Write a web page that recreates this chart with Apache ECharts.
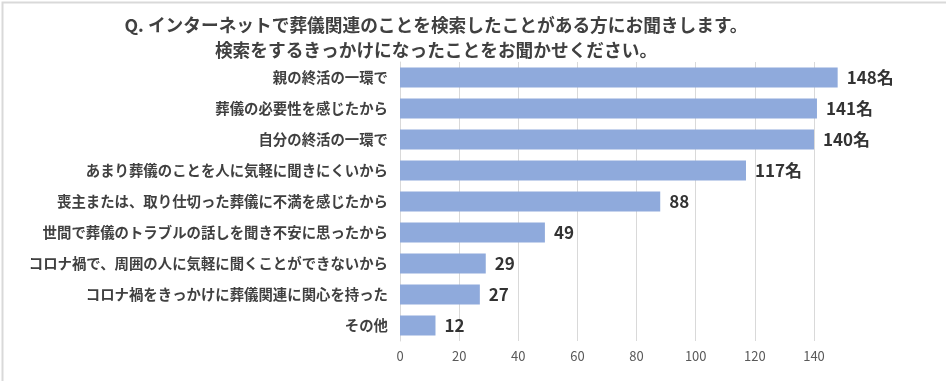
<!DOCTYPE html>
<html><head><meta charset="utf-8">
<script src="https://cdn.jsdelivr.net/npm/echarts@6/dist/echarts.min.js"></script>
<style>html,body{margin:0;padding:0;background:#fff}#c{width:946px;height:381px}</style>
</head><body><div id="c"></div>
<script>
const categories = [
  "親の終活の一環で",
  "葬儀の必要性を感じたから",
  "自分の終活の一環で",
  "あまり葬儀のことを人に気軽に聞きにくいから",
  "喪主または、取り仕切った葬儀に不満を感じたから",
  "世間で葬儀のトラブルの話しを聞き不安に思ったから",
  "コロナ禍で、周囲の人に気軽に聞くことができないから",
  "コロナ禍をきっかけに葬儀関連に関心を持った",
  "その他"
];
const values = [148, 141, 140, 117, 88, 49, 29, 27, 12];
const valueSuffix = ["名", "名", "名", "名", "", "", "", "", ""];
const titleLines = [
  "Q. インターネットで葬儀関連のことを検索したことがある方にお聞きします。",
  "検索をするきっかけになったことをお聞かせください。"
];

const FONT = '"Noto Sans CJK JP", "Noto Sans", sans-serif';
const chart = echarts.init(document.getElementById('c'), null, {renderer: 'canvas'});
chart.setOption({
  backgroundColor: '#fff',
  animation: false,
  title: {
    text: titleLines.join('\n'),
    left: 431, top: 8, textAlign: 'center',
    textStyle: {fontFamily: FONT, fontSize: 17.7, fontWeight: 'bold', color: '#404040', lineHeight: 25}
  },
  graphic: [{
    type: 'rect', left: 0, top: 0, silent: true,
    shape: {x: 0, y: 0, width: 945, height: 380},
    style: {fill: 'none', stroke: '#d9d9d9', lineWidth: 2}
  }],
  grid: {left: 400, right: 132, top: 62, bottom: 40},
  xAxis: {
    type: 'value', min: 0, max: 140, interval: 20,
    axisLine: {show: false}, axisTick: {show: false},
    splitLine: {lineStyle: {color: '#d9d9d9', width: 1}},
    axisLabel: {fontFamily: FONT, fontSize: 13, color: '#595959', margin: 9}
  },
  yAxis: {
    type: 'category', inverse: true, data: categories,
    axisLine: {show: true, lineStyle: {color: '#d9d9d9'}},
    axisTick: {show: false},
    axisLabel: {fontFamily: FONT, fontSize: 14.4, fontWeight: 'bold', color: '#404040', margin: 12}
  },
  series: [{
    type: 'bar', data: values, barWidth: 20, clip: false,
    itemStyle: {color: '#8faadc'},
    label: {
      show: true, position: 'right', distance: 9,
      fontFamily: FONT, fontSize: 17, fontWeight: 'bold', color: '#333',
      formatter: p => p.value + valueSuffix[p.dataIndex]
    }
  }]
});
</script></body></html>
